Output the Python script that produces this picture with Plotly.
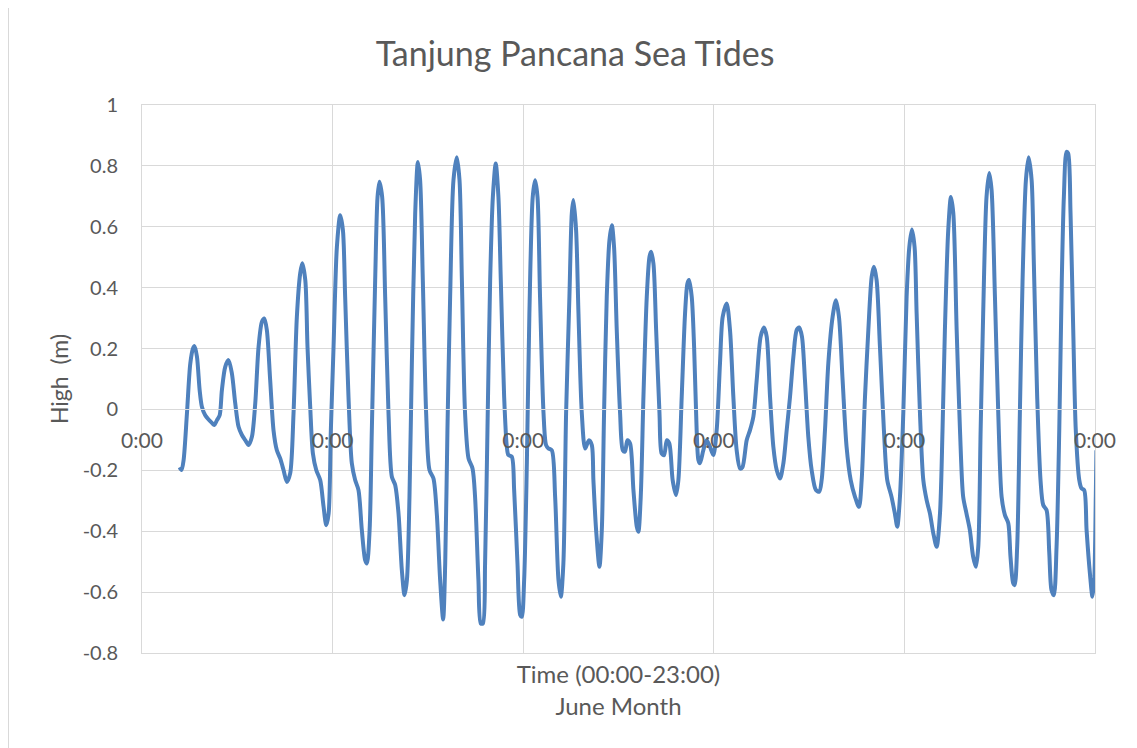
import plotly.graph_objects as go

# Time in hours from the first "0:00" label (each labelled interval = 120 h)
hours = [
    23.7, 24.9, 26.2, 28.3, 30.4, 32.1, 33.1, 34.6, 36.3, 37.7, 39.8, 41.9, 44.0, 45.5, 47.2, 48.9,
    50.3, 52.4, 54.5, 56.6, 58.7, 60.8, 62.9, 65.0, 67.1, 69.2, 71.3, 73.4, 75.5, 77.0, 78.6, 80.7,
    82.8, 84.9, 87.0, 89.1, 91.2, 93.3, 95.4, 97.5, 99.6, 100.9, 102.8, 104.2, 105.9, 107.6, 109.7,
    112.2, 114.3, 116.0, 117.5, 118.9, 120.6, 122.7, 124.8, 126.5, 127.9, 130.0, 132.1, 134.2, 136.3,
    138.4, 140.5, 141.6, 143.3, 144.7, 146.8, 148.3, 149.5, 151.2, 153.1, 155.2, 157.3, 159.4, 161.5,
    163.6, 165.3, 166.8, 168.4, 169.9, 172.0, 173.7, 175.1, 176.8, 178.9, 181.0, 183.5, 185.6, 187.7,
    189.6, 190.9, 192.3, 194.0, 196.1, 198.2, 199.9, 201.4, 203.4, 205.6, 208.1, 209.7, 211.8, 213.3,
    214.6, 216.0, 217.5, 219.2, 220.9, 222.7, 224.4, 225.9, 228.0, 229.7, 230.7, 232.8, 234.3, 236.4,
    238.1, 239.1, 240.6, 242.3, 243.9, 246.0, 247.5, 249.0, 250.6, 252.8, 254.4, 255.9, 258.0, 260.1,
    262.2, 263.7, 265.3, 267.0, 269.1, 270.6, 271.6, 273.3, 274.8, 276.9, 279.0, 281.4, 283.2, 284.2,
    285.9, 288.0, 289.5, 290.9, 292.6, 294.3, 295.8, 297.2, 298.9, 301.0, 302.7, 304.1, 305.6, 307.3,
    309.4, 311.5, 312.5, 314.0, 315.7, 317.8, 319.5, 320.5, 322.0, 323.7, 325.8, 327.2, 328.7, 330.4,
    332.0, 334.1, 336.2, 337.7, 339.8, 341.9, 343.4, 344.4, 346.1, 347.6, 349.2, 350.3, 351.3, 353.4,
    355.5, 357.6, 359.7, 361.8, 363.9, 365.6, 368.1, 370.2, 372.3, 374.4, 376.5, 378.0, 380.7, 382.8,
    384.9, 387.0, 389.5, 391.6, 393.3, 395.4, 397.5, 399.6, 401.7, 403.8, 405.9, 408.0, 410.1, 412.2,
    413.8, 415.5, 417.4, 419.5, 421.6, 424.3, 426.4, 427.9, 430.0, 432.1, 434.8, 436.9, 438.8, 441.1,
    443.6, 446.2, 448.9, 451.4, 453.1, 455.2, 457.3, 459.4, 460.8, 462.5, 464.6, 467.1, 469.2, 471.9,
    474.0, 475.5, 477.2, 479.3, 481.4, 483.1, 484.7, 486.4, 487.7, 489.8, 491.9, 494.0, 496.1, 498.2,
    500.3, 502.4, 504.0, 505.5, 507.6, 509.3, 510.8, 512.9, 515.0, 517.0, 519.1, 521.2, 523.3, 525.0,
    526.5, 528.0, 529.6, 531.7, 533.4, 534.9, 537.0, 539.1, 541.2, 543.3, 545.4, 546.8, 548.5, 549.4,
    551.0, 552.7, 554.4, 556.5, 558.2, 560.1, 561.5, 563.6, 565.7, 567.4, 569.5, 571.2, 572.6, 574.1,
    575.8, 577.5, 579.1, 580.4, 582.1, 583.1, 584.6, 586.3, 587.9, 590.1, 591.5, 593.2, 594.7, 596.8,
    598.4, 599.5, 600.5, 600.9,
]

# Sea level height (m)
height = [
    -0.190, -0.199, -0.166, -0.013, 0.151, 0.200, 0.208, 0.173, 0.063, 0.009, -0.019, -0.033, -0.044, -0.051, -0.035, -0.019,
    0.063, 0.140, 0.162, 0.118, 0.020, -0.057, -0.084, -0.101, -0.117, -0.090, 0.020, 0.206, 0.288, 0.299, 0.261, 0.096,
    -0.068, -0.134, -0.161, -0.199, -0.238, -0.210, -0.013, 0.304, 0.447, 0.480, 0.425, 0.206, 0.009, -0.145, -0.199,
    -0.232, -0.319, -0.380, -0.342, -0.068, 0.206, 0.534, 0.638, 0.589, 0.370, 0.042, -0.177, -0.232, -0.265,
    -0.396, -0.495, -0.506, -0.396, -0.068, 0.425, 0.698, 0.748, 0.698, 0.370, -0.013, -0.221, -0.248, -0.342,
    -0.528, -0.610, -0.560, -0.287, 0.151, 0.644, 0.813, 0.753, 0.425, -0.013, -0.199, -0.227, -0.342, -0.560,
    -0.690, -0.506, -0.068, 0.370, 0.753, 0.828, 0.753, 0.425, -0.013, -0.161, -0.194, -0.287, -0.560, -0.703,
    -0.703, -0.506, -0.068, 0.425, 0.698, 0.808, 0.698, 0.425, 0.042, -0.123, -0.150, -0.155, -0.265, -0.506,
    -0.675, -0.681, -0.560, -0.177, 0.315, 0.698, 0.753, 0.698, 0.370, -0.013, -0.117, -0.128, -0.134, -0.287,
    -0.560, -0.615, -0.506, -0.013, 0.370, 0.644, 0.688, 0.589, 0.315, -0.013, -0.128, -0.101, -0.117, -0.232,
    -0.396, -0.517, -0.396, -0.013, 0.370, 0.556, 0.605, 0.534, 0.261, -0.013, -0.134, -0.139, -0.101, -0.112,
    -0.265, -0.385, -0.402, -0.287, 0.042, 0.370, 0.501, 0.518, 0.479, 0.261, -0.013, -0.145, -0.150, -0.101,
    -0.112, -0.232, -0.281, -0.232, 0.042, 0.315, 0.414, 0.425, 0.370, 0.206, -0.068, -0.166, -0.177, -0.134,
    -0.101, -0.123, -0.150, -0.068, 0.151, 0.304, 0.348, 0.261, 0.042, -0.134, -0.194, -0.190, -0.101, -0.068,
    -0.024, 0.096, 0.239, 0.269, 0.239, 0.042, -0.123, -0.199, -0.227, -0.177, -0.068, 0.042, 0.173, 0.261,
    0.269, 0.239, 0.096, -0.090, -0.199, -0.265, -0.270, -0.232, -0.068, 0.151, 0.304, 0.359, 0.304, 0.096,
    -0.123, -0.232, -0.287, -0.320, -0.232, 0.042, 0.261, 0.436, 0.469, 0.425, 0.206, -0.068, -0.232, -0.287,
    -0.342, -0.385, -0.287, -0.013, 0.370, 0.534, 0.591, 0.534, 0.315, -0.013, -0.232, -0.298, -0.342, -0.407,
    -0.451, -0.342, -0.068, 0.261, 0.589, 0.698, 0.644, 0.261, -0.068, -0.287, -0.342, -0.396, -0.484, -0.517,
    -0.451, -0.068, 0.315, 0.698, 0.777, 0.720, 0.370, -0.013, -0.287, -0.347, -0.374, -0.484, -0.571, -0.577,
    -0.451, -0.013, 0.425, 0.753, 0.828, 0.753, 0.479, 0.042, -0.232, -0.314, -0.331, -0.470, -0.593, -0.610,
    -0.451, -0.068, 0.425, 0.698, 0.846, 0.841, 0.644, 0.261, -0.068, -0.232, -0.259, -0.265, -0.396, -0.539,
    -0.615, -0.560, -0.287, -0.134,
]

x_tick_hours = [0, 120, 240, 360, 480, 600]
x_tick_labels = ["0:00", "0:00", "0:00", "0:00", "0:00", "0:00"]
y_tick_values = [1.0, 0.8, 0.6, 0.4, 0.2, 0.0, -0.2, -0.4, -0.6, -0.8]
y_tick_labels = ["1", "0.8", "0.6", "0.4", "0.2", "0", "-0.2", "-0.4", "-0.6", "-0.8"]

FONT = "Lato, Carlito, Calibri, sans-serif"
TXT = "#595959"
GRID = "#D9D9D9"

# the page adds an 8px body margin, so the figure is 16px smaller than the window
W, H = 1129, 740
ML, MR, MT, MB = 134, 42, 97, 95
PW, PH = W - ML - MR, H - MT - MB

fig = go.Figure()
fig.add_trace(go.Scatter(
    x=hours, y=height, mode="lines",
    line=dict(color="#4F81BD", width=4, shape="spline", smoothing=0.8),
    xaxis="x", yaxis="y", showlegend=False, hoverinfo="x+y",
))
# empty trace so the bottom (title-carrying) axis is drawn
fig.add_trace(go.Scatter(x=[], y=[], xaxis="x2", yaxis="y", showlegend=False))

y_min, y_max = -0.8, 1.0
zero_pos = (0 - y_min) / (y_max - y_min)

fig.update_layout(
    width=W, height=H, autosize=False,
    paper_bgcolor="white", plot_bgcolor="white",
    margin=dict(l=ML, r=MR, t=MT, b=MB, pad=0),
    font=dict(family=FONT, color=TXT),
    title=dict(text="Tanjung Pancana Sea Tides", x=(575 - 8) / W, xref="container", xanchor="center",
               y=1 - 46 / H, yref="container", yanchor="middle",
               font=dict(family=FONT, size=34, color=TXT)),
    xaxis=dict(
        range=[0, 600], tickmode="array", tickvals=x_tick_hours, ticktext=x_tick_labels,
        anchor="free", position=zero_pos, side="bottom",
        showgrid=True, gridcolor=GRID, gridwidth=1,
        showline=True, linecolor=GRID, linewidth=1,
        ticks="", ticklabelstandoff=12,
        tickfont=dict(family=FONT, size=21, color=TXT),
        zeroline=False,
    ),
    xaxis2=dict(
        range=[0, 600], overlaying="x", anchor="y", side="bottom",
        showgrid=False, showticklabels=False, ticks="", zeroline=False,
        showline=True, mirror=True, linecolor=GRID, linewidth=1,
        title=dict(text="Time (00:00-23:00)<br>June Month", standoff=13,
                   font=dict(family=FONT, size=24, color=TXT)),
    ),
    yaxis=dict(
        range=[y_min, y_max], tickmode="array", tickvals=y_tick_values, ticktext=y_tick_labels,
        showgrid=True, gridcolor=GRID, gridwidth=1,
        showline=True, mirror=True, linecolor=GRID, linewidth=1,
        ticks="", ticklabelstandoff=19, zeroline=False,
        tickfont=dict(family=FONT, size=20, color=TXT),
        title=dict(text="High\u00a0 (m)", standoff=7, font=dict(family=FONT, size=23, color=TXT)),
    ),
    shapes=[dict(type="line", xref="paper", yref="paper",
                 x0=-(ML - 0.5) / PW, x1=-(ML - 0.5) / PW,
                 y0=-MB / PH, y1=1 + MT / PH,
                 line=dict(color=GRID, width=1))],
)

fig.write_html("out.html")
